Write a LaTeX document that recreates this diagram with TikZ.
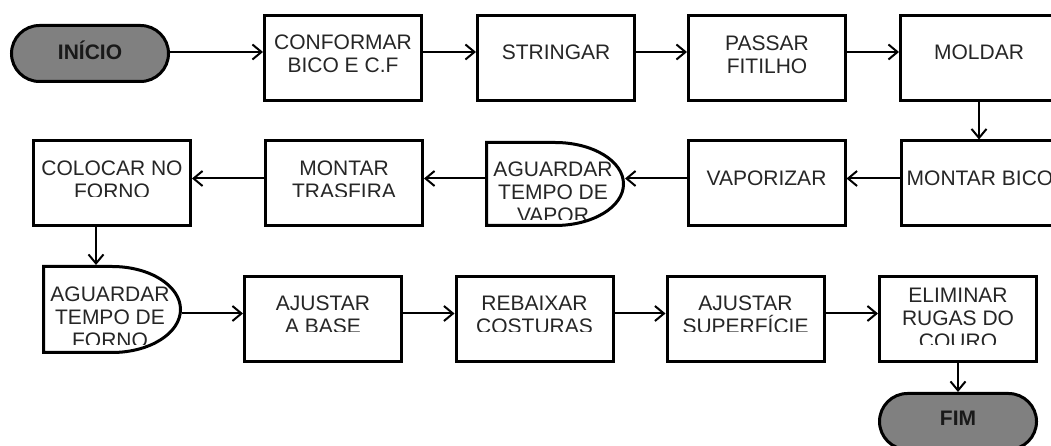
\documentclass[tikz,border=0pt]{standalone}
\usepackage{fontspec}
\setmainfont{Liberation Sans}
\usetikzlibrary{arrows.meta,shapes.misc,calc}
\begin{document}
\begin{tikzpicture}[x=1pt,y=1pt,
  box/.style={draw=black, line width=3pt, minimum width=157pt, minimum height=85pt, inner sep=0pt, outer sep=1.5pt},
  term/.style={rounded rectangle, draw=black, line width=3pt, fill=black!50, minimum width=157pt, minimum height=56pt, inner sep=0pt, outer sep=1.5pt, font=\fontsize{21}{23}\selectfont\bfseries, text=black!90, text height=15pt},
  dly/.style={minimum width=137pt, inner sep=0pt, outer sep=0pt},
  txt/.style={font=\fontsize{21}{23}\selectfont, text=black!85, align=center, inner sep=0pt},
  one/.style={text height=15pt, text depth=0pt},
  arr/.style={line width=2pt, -{Straight Barb[length=9pt,width=15pt]}},
  border/.style={draw=black, line width=3pt}
]
\clip (0,0) rectangle (1051,446);
\fill[white] (0,0) rectangle (1051,446);

% ---- row 1
\node[term, text depth=3pt] (ini) at (90,392.5) {INÍCIO};
\node[box] (conf) at (343,388) {};
\node[box] (str) at (556,388) {};
\node[box] (pas) at (767,388) {};
\node[box] (mol) at (979,388) {};
\node[txt] (conf-t) at (343,392.5) {CONFORMAR\\BICO E C.F};
\node[txt, one] (str-t) at (556,394) {STRINGAR};
\node[txt] (pas-t) at (767,391) {PASSAR\\FITILHO};
\node[txt, one] (mol-t) at (979,394) {MOLDAR};

% ---- row 2
\node[box] (bic) at (980,262.5) {};
\node[box] (vap) at (766.5,262.5) {};
\node[dly, minimum height=83pt] (agv) at (555,262) {};
\draw[border] (agv.north west) -- ([xshift=68.5]agv.north west)
  arc[start angle=90, end angle=-90, x radius=68.5, y radius=41.5] -- (agv.south west) -- cycle;
\node[box] (tra) at (344,262.5) {};
\node[box] (col) at (112,262.5) {};
\node[txt, one] (bic-t) at (980,268) {MONTAR BICO};
\node[txt, one] (vap-t) at (766.5,268) {VAPORIZAR};
\begin{scope}
  \clip (0,226) rectangle (1051,446);
  \node[txt] (agv-t) at (553,254) {AGUARDAR\\TEMPO DE\\VAPOR};
\end{scope}
\begin{scope}
  \clip (0,249) rectangle (1051,446);
  \node[txt] (tra-t) at (344,266.5) {MONTAR\\TRASFIRA};
  \node[txt] (col-t) at (112,266) {COLOCAR NO\\FORNO};
\end{scope}

% ---- row 3
\node[dly, minimum height=86pt] (agf) at (112,136.5) {};
\draw[border] (agf.north west) -- ([xshift=68.5]agf.north west)
  arc[start angle=90, end angle=-90, x radius=68.5, y radius=43] -- (agf.south west) -- cycle;
\node[box] (bas) at (323,126.5) {};
\node[box] (reb) at (534.5,126.5) {};
\node[box] (sup) at (745.5,126.5) {};
\node[box] (eli) at (958,126.5) {};
\node[term, text depth=7pt] (fim) at (958,24.5) {FIM};
\begin{scope}
  \clip (0,101) rectangle (1051,446);
  \node[txt] (agf-t) at (110,129) {AGUARDAR\\TEMPO DE\\FORNO};
  \node[txt] (eli-t) at (958,128) {ELIMINAR\\RUGAS DO\\COURO};
\end{scope}
\begin{scope}
  \clip (0,114) rectangle (1051,446);
  \node[txt] (bas-t) at (323,131.5) {AJUSTAR\\A BASE};
  \node[txt] (reb-t) at (534.5,131.5) {REBAIXAR\\COSTURAS};
  \node[txt] (sup-t) at (745.5,131.5) {AJUSTAR\\SUPERFÍCIE};
\end{scope}

% ---- connectors
\draw[arr] ([yshift=1.5]ini.east) -- ([yshift=6]conf.west);
\draw[arr] ([yshift=6]conf.east) -- ([yshift=6]str.west);
\draw[arr] ([yshift=6]str.east) -- ([yshift=6]pas.west);
\draw[arr] ([yshift=6]pas.east) -- ([yshift=6]mol.west);
\draw[arr] (mol.south) -- (mol.south |- bic.north);
\draw[arr] ([yshift=5]bic.west) -- ([yshift=5]vap.east);
\draw[arr] ([yshift=5]vap.west) -- ([shift={(1.5,5.5)}]agv.east);
\draw[arr] ([shift={(-1.5,5.5)}]agv.west) -- ([yshift=5]tra.east);
\draw[arr] ([yshift=5]tra.west) -- ([yshift=5]col.east);
\draw[arr] ([xshift=-16]col.south) -- ([shift={(-16,1.5)}]col.south |- agf.north);
\draw[arr] ([shift={(1.5,-4)}]agf.east) -- ([yshift=6]bas.west);
\draw[arr] ([yshift=6]bas.east) -- ([yshift=6]reb.west);
\draw[arr] ([yshift=6]reb.east) -- ([yshift=6]sup.west);
\draw[arr] ([yshift=6]sup.east) -- ([yshift=6]eli.west);
\draw[arr] (eli.south) -- (fim.north);
\end{tikzpicture}
\end{document}
